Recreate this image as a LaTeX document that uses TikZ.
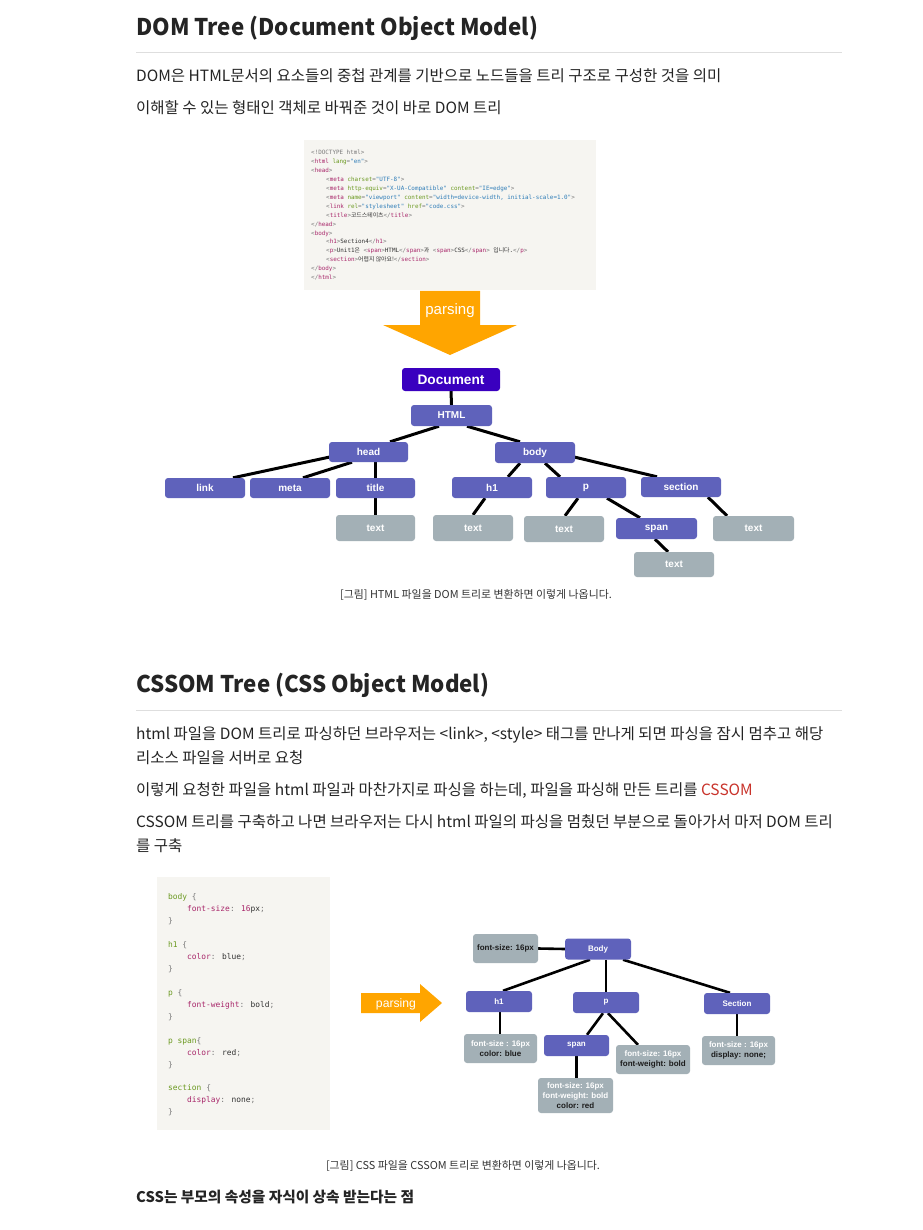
\documentclass[tikz,border=0pt]{standalone}
\usepackage{fontspec}
\setmainfont{Noto Sans CJK KR}
\newfontfamily\nf{Liberation Sans}
\newfontfamily\mono{DejaVu Sans Mono}
\newfontfamily\kr{Noto Sans CJK KR}
\newfontfamily\hdf[FakeStretch=0.97]{Noto Sans CJK KR}
\usetikzlibrary{calc,backgrounds}
\definecolor{txt}{HTML}{242424}
\definecolor{rulec}{HTML}{DEDEDE}
\definecolor{codebg}{HTML}{F6F5F1}
\definecolor{dnode}{HTML}{5F62BB}
\definecolor{docc}{HTML}{3A00BF}
\definecolor{gnode}{HTML}{A3B0B6}
\definecolor{orng}{HTML}{FFA500}
\definecolor{ctag}{HTML}{A8276A}
\definecolor{catt}{HTML}{6C9A22}
\definecolor{cval}{HTML}{2F7DB8}
\definecolor{cgry}{HTML}{7A7A7A}
\definecolor{ctxt}{HTML}{333333}
\definecolor{cred}{HTML}{C9332B}
\definecolor{infodark}{HTML}{1C1C1C}
\newcommand\hT[1]{\textcolor{ctag}{#1}}
\newcommand\hA[1]{\textcolor{catt}{#1}}
\newcommand\hV[1]{\textcolor{cval}{"#1"}}
\newcommand\hL{\textcolor{cgry}{<}}
\newcommand\hR{\textcolor{cgry}{>}}
\newcommand\hS{\textcolor{cgry}{</}}
\newcommand\hB[1]{\textcolor{cgry}{#1}}
\newcommand\iw[1]{\textcolor{white}{#1}}
\tikzset{
  para/.style={anchor=base west, inner sep=0pt, text=txt, font=\fontsize{15.5}{18}\selectfont},
  headg/.style={anchor=base west, inner sep=0pt, text=txt, font=\hdf\bfseries\fontsize{23}{27}\selectfont},
  capt/.style={anchor=base, inner sep=0pt, text=ctxt, font=\fontsize{10.9}{12}\selectfont},
  hcode/.style={anchor=base west, inner sep=0pt, text=ctxt, font=\mono\fontsize{5.9}{7}\selectfont},
  ccode/.style={anchor=base west, inner sep=0pt, text=ctxt, font=\mono\fontsize{7.9}{9}\selectfont},
  dn/.style={fill=dnode, rounded corners=3pt, text=white, font=\nf\bfseries\fontsize{10}{12}\selectfont, inner sep=0pt, minimum width=80pt, minimum height=21pt},
  gn/.style={dn, fill=gnode, minimum height=26pt},
  cn/.style={dn, font=\nf\bfseries\fontsize{8}{10}\selectfont, minimum width=66pt, minimum height=21pt},
  ci/.style={fill=gnode, rounded corners=3pt, text=infodark, font=\nf\bfseries\fontsize{8}{10}\selectfont, inner sep=0pt, align=center, minimum width=73pt, minimum height=29pt},
  edge/.style={draw=black, line width=3pt},
  cedge/.style={draw=black, line width=2.6pt},
}
\begin{document}
\begin{tikzpicture}[x=1pt,y=-1pt]
\begin{pgfonlayer}{background}
\fill[white] (0,0) rectangle (922,1230);
\end{pgfonlayer}
\useasboundingbox (0,0) rectangle (922,1230);

% ---------- DOM section text ----------
\node[headg] (h1t) at (136,36) {DOM Tree (Document Object Model)};
\draw[rulec, line width=1pt] (136,53) -- (842,53);
\node[para] (l1) at (136,82) {DOM은 HTML문서의 요소들의 중첩 관계를 기반으로 노드들을 트리 구조로 구성한 것을 의미};
\node[para] (l2) at (136,114) {이해할 수 있는 형태인 객체로 바꿔준 것이 바로 DOM 트리};

% ---------- HTML code image ----------
\fill[codebg] (304,140) rectangle (596,290);
\node[hcode] (c0) at (311,155) {\hB{<!DOCTYPE html>}};
\node[hcode] (c1) at (311,163.9) {\hL\hT{html} \hA{lang}\hB{=}\hV{en}\hR};
\node[hcode] (c2) at (311,172.8) {\hL\hT{head}\hR};
\node[hcode] (c3) at (326,181.7) {\hL\hT{meta} \hA{charset}\hB{=}\hV{UTF-8}\hR};
\node[hcode] (c4) at (326,190.6) {\hL\hT{meta} \hA{http-equiv}\hB{=}\hV{X-UA-Compatible} \hA{content}\hB{=}\hV{IE=edge}\hR};
\node[hcode] (c5) at (326,199.5) {\hL\hT{meta} \hA{name}\hB{=}\hV{viewport} \hA{content}\hB{=}\hV{width=device-width, initial-scale=1.0}\hR};
\node[hcode] (c6) at (326,208.4) {\hL\hT{link} \hA{rel}\hB{=}\hV{stylesheet} \hA{href}\hB{=}\hV{code.css}\hR};
\node[hcode] (c7) at (326,217.3) {\hL\hT{title}\hR{\kr 코드스테이츠}\hS\hT{title}\hR};
\node[hcode] (c8) at (311,226.2) {\hS\hT{head}\hR};
\node[hcode] (c9) at (311,235.1) {\hL\hT{body}\hR};
\node[hcode] (c10) at (326,244) {\hL\hT{h1}\hR Section4\hS\hT{h1}\hR};
\node[hcode] (c11) at (326,252.9) {\hL\hT{p}\hR Unit1{\kr 은} \hL\hT{span}\hR HTML\hS\hT{span}\hR{\kr 과} \hL\hT{span}\hR CSS\hS\hT{span}\hR\ {\kr 입니다}.\hS\hT{p}\hR};
\node[hcode] (c12) at (326,261.8) {\hL\hT{section}\hR{\kr 어렵지 않아요!}\hS\hT{section}\hR};
\node[hcode] (c13) at (311,270.7) {\hS\hT{body}\hR};
\node[hcode] (c14) at (311,279.6) {\hS\hT{html}\hR};

% ---------- parsing arrow (down) ----------
\fill[orng] (420,291) -- (480,291) -- (480,325) -- (517,325) -- (450,355) -- (383,325) -- (420,325) -- cycle;
\node[text=white, font=\nf\fontsize{15}{17}\selectfont, inner sep=0pt] (pa1) at (450,311) {parsing};

% ---------- DOM tree ----------
\node[dn, fill=docc, minimum width=98pt, minimum height=23pt, font=\nf\bfseries\fontsize{13.7}{15}\selectfont] (doc) at (451,379.5) {Document};
\node[dn, minimum width=81pt] (html) at (451.5,415.5) {HTML};
\node[dn, minimum width=79pt, minimum height=20pt] (head) at (368.5,452) {head};
\node[dn, minimum height=20pt] (link) at (205,488) {link};
\node[dn, minimum height=20pt] (meta) at (290,488) {meta};
\node[dn, minimum width=79pt, minimum height=20pt] (title) at (375.5,488) {title};
\node[gn, minimum width=79pt] (ttitle) at (375.5,528) {text};
\node[dn] (body) at (535,452.5) {body};
\node[dn] (h1) at (492,487.5) {h1};
\node[dn] (p) at (586,487.5) {p};
\node[dn, minimum height=20pt] (section) at (681,487) {section};
\node[gn] (th1) at (473,528) {text};
\node[gn] (tp) at (564,529) {text};
\node[dn, minimum width=81pt] (span) at (656.5,528.5) {span};
\node[gn, minimum width=81pt, minimum height=25pt] (tsec) at (753.5,528.5) {text};
\node[gn, minimum height=25pt] (tspan) at (674,564.5) {text};

\begin{pgfonlayer}{background}
\draw[edge] (doc.south) -- (html.north);
\draw[edge] ($(html.south)+(-12.5,0)$) -- ($(head.north)+(21.5,0)$);
\draw[edge] ($(html.south)+(15.5,0)$) -- ($(body.north)+(-15,0)$);
\draw[edge] ($(head.west)+(1,5)$) -- ($(link.north)+(28,0)$);
\draw[edge] ($(head.south)+(-16.5,0)$) -- ($(meta.north)+(13,0)$);
\draw[edge] ($(head.south)+(7,0)$) -- (title.north);
\draw[edge] (title.south) -- (ttitle.north);
\draw[edge] ($(body.south)+(-15,0)$) -- ($(h1.north)+(16,0)$);
\draw[edge] ($(body.south)+(10,0)$) -- ($(p.north)+(-26,0)$);
\draw[edge] ($(body.east)+(-1,4.5)$) -- ($(section.north)+(-24,0)$);
\draw[edge] ($(h1.south)+(-7,0)$) -- (th1.north);
\draw[edge] ($(p.south)+(-8,0)$) -- ($(tp.north)+(1,0)$);
\draw[edge] ($(p.south)+(21,0)$) -- ($(span.north)+(-16.5,0)$);
\draw[edge] ($(section.south)+(27,0)$) -- ($(tsec.north)+(-26.5,0)$);
\draw[edge] ($(span.south)+(-1.5,0)$) -- ($(tspan.north)+(-6,0)$);
\end{pgfonlayer}

\node[capt] (cap1) at (476,598) {[그림] HTML 파일을 DOM 트리로 변환하면 이렇게 나옵니다.};

% ---------- CSSOM section text ----------
\node[headg] (h2t) at (136,692) {CSSOM Tree (CSS Object Model)};
\draw[rulec, line width=1pt] (136,710) -- (842,710);
\node[para] (m1) at (136,739) {html 파일을 DOM 트리로 파싱하던 브라우저는 <link>, <style> 태그를 만나게 되면 파싱을 잠시 멈추고 해당};
\node[para] (m2) at (136,763) {리소스 파일을 서버로 요청};
\node[para] (m3) at (136,795) {이렇게 요청한 파일을 html 파일과 마찬가지로 파싱을 하는데, 파일을 파싱해 만든 트리를 \textcolor{cred}{CSSOM}};
\node[para] (m4) at (136,827) {CSSOM 트리를 구축하고 나면 브라우저는 다시 html 파일의 파싱을 멈췄던 부분으로 돌아가서 마저 DOM 트리};
\node[para] (m5) at (136,851) {를 구축};

% ---------- CSS code image ----------
\fill[codebg] (157,877) rectangle (330,1130);
\node[ccode] (s0) at (168,899.8) {\hA{body} \hB{\{}};
\node[ccode] (s1) at (187,911.7) {\hT{font-size}\hB{:} \hT{16}px\hB{;}};
\node[ccode] (s2) at (168,923.7) {\hB{\}}};
\node[ccode] (s3) at (168,947.6) {\hA{h1} \hB{\{}};
\node[ccode] (s4) at (187,959.5) {\hT{color}\hB{:} blue\hB{;}};
\node[ccode] (s5) at (168,971.4) {\hB{\}}};
\node[ccode] (s6) at (168,995.3) {\hA{p} \hB{\{}};
\node[ccode] (s7) at (187,1007.3) {\hT{font-weight}\hB{:} bold\hB{;}};
\node[ccode] (s8) at (168,1019.2) {\hB{\}}};
\node[ccode] (s9) at (168,1043.1) {\hA{p span}\hB{\{}};
\node[ccode] (s10) at (187,1055) {\hT{color}\hB{:} red\hB{;}};
\node[ccode] (s11) at (168,1067) {\hB{\}}};
\node[ccode] (s12) at (168,1090.8) {\hA{section} \hB{\{}};
\node[ccode] (s13) at (187,1102.8) {\hT{display}\hB{:} none\hB{;}};
\node[ccode] (s14) at (168,1114.7) {\hB{\}}};

% ---------- parsing arrow (right) ----------
\fill[orng] (361,993) -- (420,993) -- (420,984) -- (442,1003) -- (420,1022) -- (420,1013) -- (361,1013) -- cycle;
\node[text=white, font=\nf\fontsize{12.2}{14}\selectfont, inner sep=0pt] (pa2) at (396,1004) {parsing};

% ---------- CSSOM tree ----------
\node[ci, minimum width=65pt] (cfs) at (505.5,948.5) {font-size: 16px};
\node[cn] (cbody) at (598,949) {Body};
\node[cn] (ch1) at (499,1001.5) {h1};
\node[cn] (cp) at (606,1002.5) {p};
\node[cn] (csec) at (737,1003.5) {Section};
\node[ci] (ih1) at (500.5,1048.5) {\iw{font-size : 16px}\\color: blue};
\node[cn, minimum width=65pt] (cspan) at (576.5,1045.5) {span};
\node[ci, minimum width=74pt] (ip) at (653,1059.5) {\iw{font-size: 16px}\\font-weight: bold};
\node[ci] (isec) at (738.5,1050.5) {\iw{font-size : 16px}\\display: none;};
\node[ci, minimum width=75pt, minimum height=35pt] (ispan) at (575.5,1095.5) {\iw{font-size: 16px}\\\iw{font-weight: bold}\\color: red};

\begin{pgfonlayer}{background}
\draw[cedge] (cfs.east) -- (cbody.west);
\draw[cedge] ($(cbody.south)+(-8,0)$) -- ($(ch1.north)+(4,0)$);
\draw[cedge] ($(cbody.south)+(8,0)$) -- (cp.north);
\draw[cedge] ($(cbody.south)+(25,0)$) -- ($(csec.north)+(-7,0)$);
\draw[cedge] ($(ch1.south)+(1,0)$) -- ($(ih1.north)+(-0.5,0)$);
\draw[cedge] ($(cp.south)+(-3,0)$) -- ($(cspan.north)+(10.5,0)$);
\draw[cedge] ($(cp.south)+(2,0)$) -- ($(ip.north)+(-15,0)$);
\draw[cedge] (csec.south) -- ($(isec.north)+(-1.5,0)$);
\draw[cedge] (cspan.south) -- ($(ispan.north)+(1,0)$);
\end{pgfonlayer}

\node[capt] (cap2) at (463,1169) {[그림] CSS 파일을 CSSOM 트리로 변환하면 이렇게 나옵니다.};
\node[anchor=base west, inner sep=0pt, text=txt, font=\bfseries\fontsize{14.7}{18}\selectfont] (last) at (136,1202) {CSS는 부모의 속성을 자식이 상속 받는다는 점};
\end{tikzpicture}
\end{document}
